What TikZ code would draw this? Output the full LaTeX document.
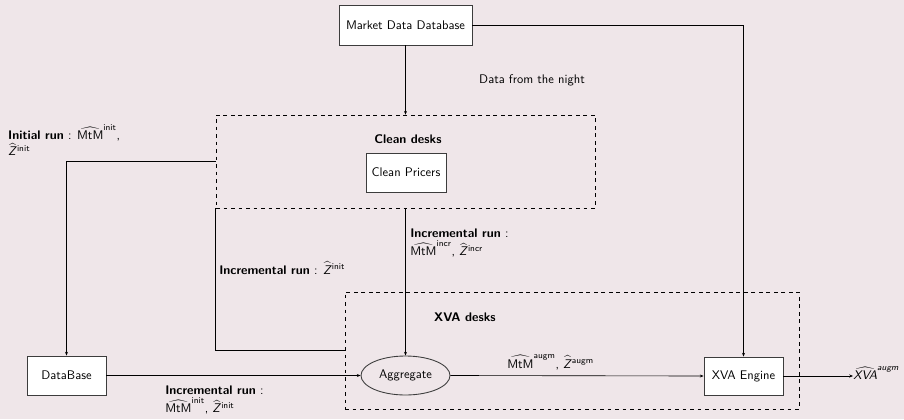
\documentclass[tikz,border=0pt]{standalone}
\usepackage{amsmath}
\usetikzlibrary{shapes.geometric,arrows.meta}
\definecolor{bgpink}{RGB}{239,230,233}
\definecolor{boxline}{RGB}{60,60,60}
\newcommand{\zhat}[1]{\widehat{\text{\itshape Z\/}}{}^{\text{#1}}}
\newcommand{\mtmhat}[1]{\widehat{\text{MtM}}^{\text{#1}}}
\begin{document}
\begin{tikzpicture}[x=0.8pt,y=-0.8pt,
  font=\sffamily,
  every node/.style={inner sep=1pt},
  solidbox/.style={draw=boxline,line width=0.7pt,fill=white,inner sep=0pt},
  deskbox/.style={draw,dashed,line width=0.5pt,inner sep=0pt},
  link/.style={draw,line width=0.5pt},
  arr/.style={link,-{Stealth[length=3pt,width=2.4pt]}},
  lbl/.style={align=left,inner sep=0pt}]
\fill[bgpink] (0,0) rectangle (904,419);
\useasboundingbox (0,0) rectangle (904,419);

% dashed desk frames
\node[deskbox,minimum width=303.2pt,minimum height=74.4pt] (cd) at (405.5,161.5) {};
\node[deskbox,minimum width=363.2pt,minimum height=93.6pt] (xd) at (572,350.5) {};
\node[font=\sffamily\bfseries] (cdt) at (408,139) {Clean desks};
\node[font=\sffamily\bfseries] (xdt) at (465,317) {XVA desks};

% boxes
\node[solidbox,minimum width=106.4pt,minimum height=32pt] (mdd) at (405.5,25) {Market Data Database};
\node[solidbox,minimum width=64pt,minimum height=31.2pt] (cp) at (406,172.5) {Clean Pricers};
\node[solidbox,minimum width=63.2pt,minimum height=31.2pt] (db) at (66.5,375.5) {DataBase};
\node[solidbox,minimum width=63.2pt,minimum height=30.4pt] (xe) at (743.5,376) {XVA Engine};
\node[draw=boxline,line width=0.7pt,ellipse,fill=bgpink,minimum width=71.2pt,minimum height=31.2pt,inner sep=0pt] (agg) at (405.5,375.5) {Aggregate};
\node[anchor=west,inner sep=0pt] (out) at (853,373) {$\widehat{\text{\itshape XVA}}^{\text{\itshape augm}}$};

% connectors
\draw[arr] (mdd.south) -- (mdd.south |- cd.north);
\draw[arr] (mdd.east) -| (xe.north);
\draw[arr] (cd.west) -| (db.north);
\draw[link] (cd.south west) |- (xd.west);
\draw[arr] (cd.south) -- (agg.north);
\draw[arr] (db.east) -- (agg.west);
\draw[arr] (agg.east) -- (xe.west);
\draw[arr] (xe.east) -- (xe.east -| out.west);

% labels
\node[lbl] (ldn) at (532,80) {Data from the night};
\node[lbl,anchor=north west] (lir) at (8,124) {\textbf{Initial run} : $\mtmhat{init}$,\\[1pt] $\zhat{init}$};
\node[lbl,anchor=west] (lzi) at (219,268) {\textbf{Incremental run} : $\zhat{init}$};
\node[lbl,anchor=north west] (lic) at (410,229) {\textbf{Incremental run} :\\[1pt] $\mtmhat{incr}$, $\zhat{incr}$};
\node[lbl,anchor=west] (lag) at (507,362) {$\mtmhat{augm}$, $\zhat{augm}$};
\node[lbl,anchor=north west] (lib) at (165,386) {\textbf{Incremental run} :\\[1pt] $\mtmhat{init}$, $\zhat{init}$};
\end{tikzpicture}
\end{document}
